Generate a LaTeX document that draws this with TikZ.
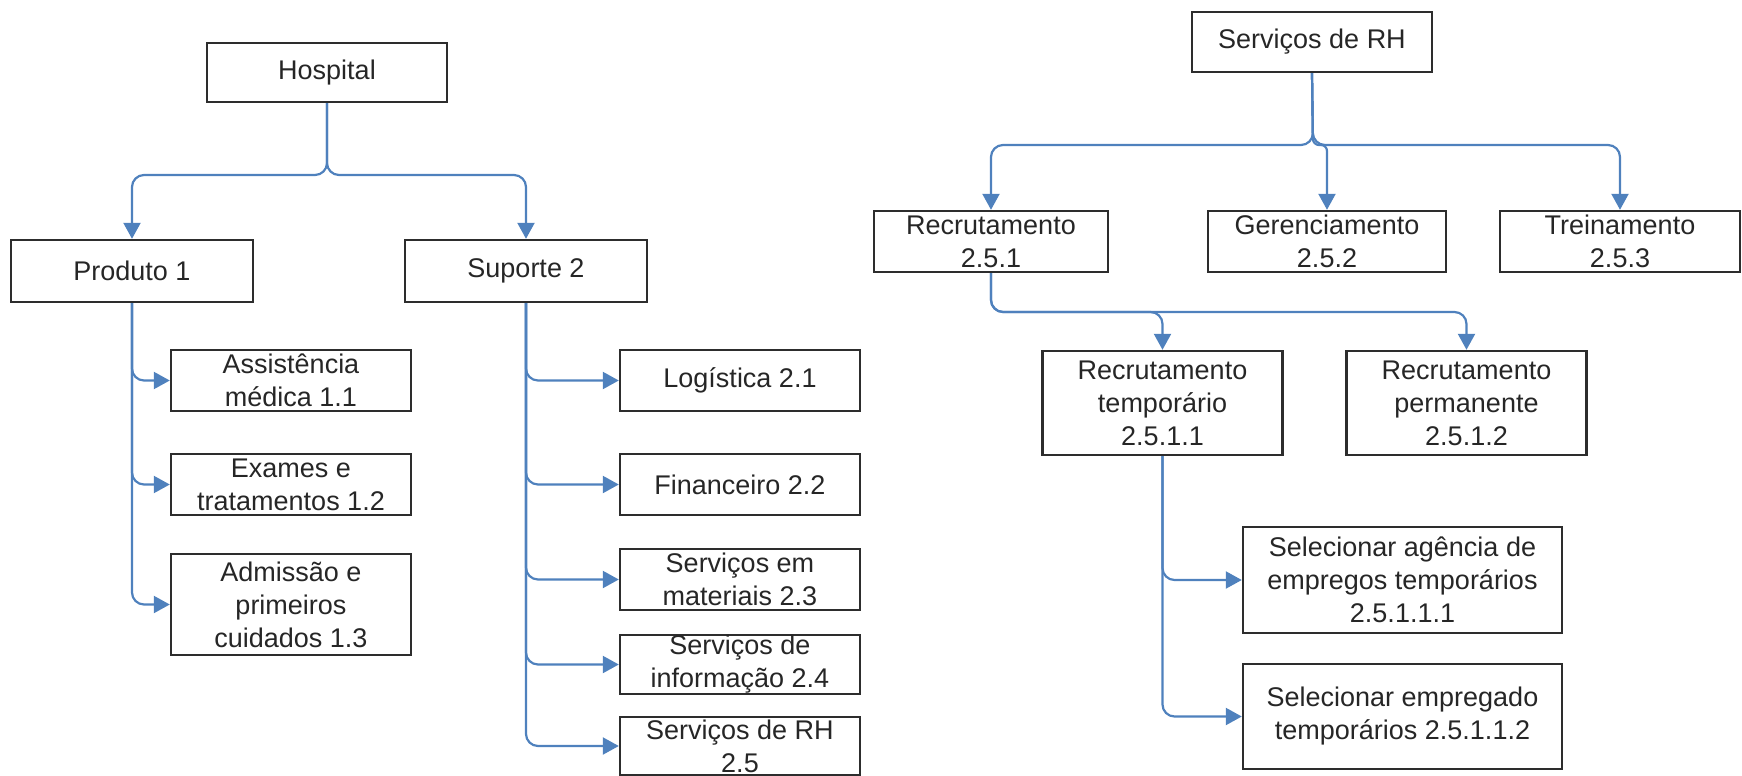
\documentclass[tikz,border=0pt]{standalone}
\usepackage{fontspec}
\setmainfont{Liberation Sans}
\usepackage{xcolor}
\usepackage{tikz}
\usetikzlibrary{arrows.meta}

\definecolor{linkblue}{RGB}{79,129,189}
\definecolor{boxline}{RGB}{45,45,45}

\begin{document}
\begin{tikzpicture}[
  x=0.5pt, y=-0.5pt,
  font=\fontsize{13.5}{16.5}\selectfont,
  block/.style={draw=boxline, line width=1.2pt, align=center, inner sep=0pt, minimum width=120pt, minimum height=30.5pt, text=black!85},
  tall/.style={minimum height=52pt},
  wide/.style={minimum width=159.5pt},
  arr/.style={-{Triangle[length=8pt, width=8.5pt]}, draw=linkblue, line width=1.1pt, rounded corners=6pt}
]
\useasboundingbox (0,0) rectangle (1742,776);

\node[block, minimum height=29.5pt] (hosp) at (327,72.5) {Hospital};
\node[block, minimum width=121pt, minimum height=31pt] (prod) at (132,271) {Produto 1};
\node[block, minimum width=121pt, minimum height=31pt] (sup) at (526,271) {Suporte 2};

\node[block] (assist) at (291,380.5) {Assistência\\médica 1.1};
\node[block] (exames) at (291,484.5) {Exames e\\tratamentos 1.2};
\node[block, minimum height=50.5pt] (admis) at (291,604.5) {Admissão e\\primeiros\\cuidados 1.3};

\node[block] (logist) at (740,380.5) {Logística 2.1};
\node[block] (financ) at (740,484.5) {Financeiro 2.2};
\node[block] (mater) at (740,579.5) {Serviços em\\materiais 2.3};
\node[block, minimum height=29.5pt] (inform) at (740,664.5) {Serviços de\\informação 2.4};
\node[block, minimum height=29pt] (srh) at (740,746) {Serviços de RH\\2.5};

\node[block, minimum height=30pt] (rh) at (1312,42) {Serviços de RH};
\node[block, minimum width=117pt] (recrut) at (991,241.5) {Recrutamento\\2.5.1};
\node[block, minimum width=119pt] (gerenc) at (1327,241.5) {Gerenciamento\\2.5.2};
\node[block] (treina) at (1620,241.5) {Treinamento\\2.5.3};

\node[block, tall] (rtemp) at (1162.5,403) {Recrutamento\\temporário\\2.5.1.1};
\node[block, tall] (rperm) at (1466.5,403) {Recrutamento\\permanente\\2.5.1.2};

\node[block, wide, minimum height=53pt] (agencia) at (1402.5,580) {Selecionar agência de\\empregos temporários\\2.5.1.1.1};
\node[block, wide, minimum height=52.5pt] (empreg) at (1402.5,716.5) {Selecionar empregado\\temporários 2.5.1.1.2};

\coordinate (hfork) at (327,175);
\coordinate (rhfork) at (1313,145);
\coordinate (recfork) at (991,312);

\draw[arr] (hosp.south) -- (hfork) -| (prod.north);
\draw[arr] (hosp.south) -- (hfork) -| (sup.north);

\draw[arr] (prod.south) |- (assist.west);
\draw[arr] (prod.south) |- (exames.west);
\draw[arr] (prod.south) |- (admis.west);

\draw[arr] (sup.south) |- (logist.west);
\draw[arr] (sup.south) |- (financ.west);
\draw[arr] (sup.south) |- (mater.west);
\draw[arr] (sup.south) |- (inform.west);
\draw[arr] (sup.south) |- (srh.west);

\draw[arr] (rh.south) -- (rhfork) -| (recrut.north);
\draw[arr, rounded corners=3pt] (rh.south) -- (rhfork) -| (gerenc.north);
\draw[arr] (rh.south) -- (rhfork) -| (treina.north);

\draw[arr] (recrut.south) -- (recfork) -| (rtemp.north);
\draw[arr] (recrut.south) -- (recfork) -| (rperm.north);

\draw[arr] (rtemp.south) |- (agencia.west);
\draw[arr] (rtemp.south) |- (empreg.west);

\end{tikzpicture}
\end{document}
